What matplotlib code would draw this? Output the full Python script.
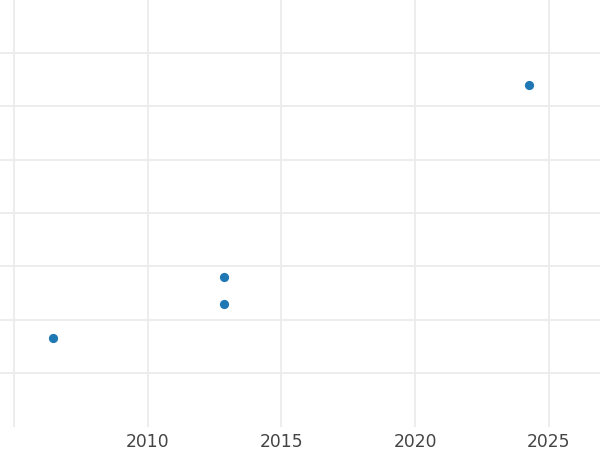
import matplotlib
matplotlib.use("Agg")
import matplotlib.pyplot as plt

years = [2006.46, 2012.86, 2012.86, 2024.27]
values = [0.66, 1.29, 1.80, 5.40]
xticks = [2005, 2010, 2015, 2020, 2025]
xticklabels = ["", "2010", "2015", "2020", "2025"]
yticks = [0, 1, 2, 3, 4, 5, 6]

fig = plt.figure(figsize=(6, 4.5), dpi=100)
ax = fig.add_axes([0, 23/450, 1, 1 - 23/450])
ax.scatter(years, values, s=44, color="#1f77b4", zorder=3, linewidths=0)
ax.set_xlim(2004.476, 2026.92)
ax.set_ylim(-1.01, 6.99)
ax.set_xticks(xticks)
ax.set_xticklabels(xticklabels)
ax.set_yticks(yticks)
ax.set_yticklabels([])
ax.grid(True, color="#ececec", linewidth=1.3, zorder=0)
ax.set_axisbelow(True)
for s in ax.spines.values():
    s.set_visible(False)
ax.tick_params(axis="both", length=0)
ax.tick_params(axis="x", labelsize=12.3, labelcolor="#444444", pad=4)
fig.savefig("out.png", dpi=100)
